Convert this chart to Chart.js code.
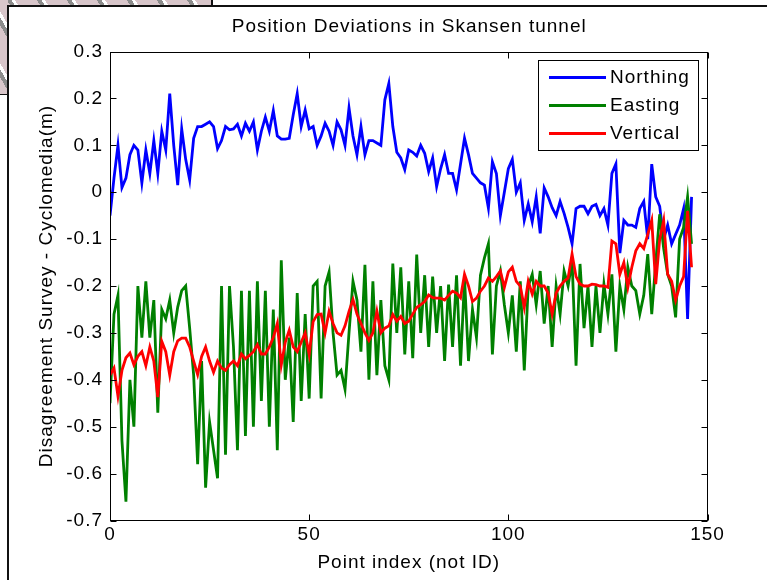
<!DOCTYPE html>
<html><head><meta charset="utf-8">
<script src="https://cdn.jsdelivr.net/npm/chart.js@4/dist/chart.umd.min.js"></script>
<style>
html,body{margin:0;padding:0;background:#fff;}
#wrap{position:relative;width:767px;height:580px;overflow:hidden;background:#fff;}
.bg{position:absolute;background:repeating-linear-gradient(60deg,#d8c6ca 0px,#d8c6ca 9px,#8c8c8c 9px,#8c8c8c 13px,#ffffff 13px,#ffffff 16px,#d8c6ca 16px,#d8c6ca 26px);}
.ln{position:absolute;background:#111;}
canvas{position:absolute;left:0;top:0;}
</style></head><body>
<div id="wrap">
<div class="bg" style="left:0;top:0;width:212px;height:6px"></div>
<div class="bg" style="left:0;top:0;width:8px;height:95px"></div>
<div class="ln" style="left:7px;top:5px;width:760px;height:2px"></div>
<div class="ln" style="left:7px;top:5px;width:2px;height:575px"></div>
<div class="ln" style="left:211px;top:0;width:2px;height:6px"></div>
<div class="ln" style="left:0;top:94px;width:8px;height:1px"></div>
<canvas id="c" width="767" height="580"></canvas>
</div>
<script>
const titleText = 'Position Deviations in Skansen tunnel';
const xTitle = 'Point index (not ID)';
const yTitle = 'Disagreement Survey - Cyclomedia(m)';
const seriesNames = ['Northing', 'Easting', 'Vertical'];
const seriesColors = ['#0000ff', '#008000', '#ff0000'];
const xTicks = [0, 50, 100, 150];
const yTicks = [-0.7, -0.6, -0.5, -0.4, -0.3, -0.2, -0.1, 0, 0.1, 0.2, 0.3];
const yTickLabels = ['-0.7', '-0.6', '-0.5', '-0.4', '-0.3', '-0.2', '-0.1', '0', '0.1', '0.2', '0.3'];

const northing = [
 -0.05, 0.03, 0.10, 0.01, 0.03, 0.08, 0.10, 0.09, 0.02, 0.09,
 0.04, 0.11, 0.04, 0.13, 0.09, 0.21, 0.10, 0.015, 0.135, 0.07,
 0.026, 0.115, 0.14, 0.14, 0.145, 0.15, 0.14, 0.093, 0.11, 0.14,
 0.133, 0.135, 0.145, 0.12, 0.147, 0.13, 0.15, 0.09, 0.13, 0.16,
 0.13, 0.174, 0.12, 0.113, 0.113, 0.115, 0.165, 0.21, 0.14, 0.175,
 0.135, 0.14, 0.10, 0.12, 0.147, 0.13, 0.10, 0.15, 0.133, 0.10,
 0.18, 0.12, 0.08, 0.14, 0.08, 0.11, 0.11, 0.105, 0.10, 0.197,
 0.232, 0.14, 0.085, 0.073, 0.048, 0.09, 0.085, 0.077, 0.10, 0.083,
 0.044, 0.073, 0.012, 0.05, 0.08, 0.04, 0.04, 0.005, 0.06, 0.115,
 0.08, 0.04, 0.03, 0.02, 0.015, -0.034, 0.065, 0.04, -0.05, 0.0,
 0.05, 0.07, 0.0, 0.02, -0.06, -0.025, -0.063, -0.01, -0.088, 0.009,
 -0.01, -0.033, -0.05, -0.02, -0.045, -0.075, -0.11, -0.035, -0.03, -0.03,
 -0.046, -0.03, -0.026, -0.05, -0.035, -0.07, 0.04, 0.06, -0.13, -0.06,
 -0.07, -0.07, -0.075, -0.035, -0.02, -0.1, 0.06, -0.01, -0.03, -0.1,
 -0.07, -0.11, -0.09, -0.07, -0.035, -0.27, -0.01
];
const easting = [
 -0.45, -0.26, -0.22, -0.53, -0.66, -0.40, -0.50, -0.20, -0.31, -0.19,
 -0.31, -0.23, -0.47, -0.25, -0.27, -0.23, -0.30, -0.245, -0.21, -0.20,
 -0.29, -0.39, -0.58, -0.36, -0.63, -0.49, -0.55, -0.61, -0.20, -0.56,
 -0.20, -0.33, -0.55, -0.21, -0.52, -0.21, -0.50, -0.19, -0.445, -0.21,
 -0.50, -0.25, -0.55, -0.145, -0.40, -0.31, -0.49, -0.215, -0.445, -0.26,
 -0.44, -0.20, -0.19, -0.44, -0.20, -0.17, -0.30, -0.39, -0.38, -0.42,
 -0.30, -0.19, -0.23, -0.34, -0.155, -0.40, -0.19, -0.39, -0.23, -0.37,
 -0.40, -0.152, -0.30, -0.16, -0.346, -0.19, -0.354, -0.133, -0.30, -0.177,
 -0.33, -0.18, -0.30, -0.20, -0.36, -0.197, -0.33, -0.177, -0.37, -0.183,
 -0.36, -0.25, -0.31, -0.177, -0.14, -0.11, -0.346, -0.20, -0.168, -0.24,
 -0.30, -0.22, -0.34, -0.19, -0.38, -0.20, -0.175, -0.24, -0.168, -0.28,
 -0.20, -0.33, -0.20, -0.26, -0.168, -0.20, -0.146, -0.37, -0.153, -0.29,
 -0.20, -0.33, -0.20, -0.30, -0.196, -0.26, -0.175, -0.34, -0.20, -0.25,
 -0.16, -0.20, -0.21, -0.26, -0.22, -0.132, -0.26, -0.15, -0.047, -0.12,
 -0.175, -0.20, -0.267, -0.10, -0.075, -0.01, -0.11
];
const vertical = [
 -0.39, -0.375, -0.435, -0.38, -0.353, -0.343, -0.368, -0.35, -0.34, -0.37,
 -0.33, -0.36, -0.437, -0.318, -0.34, -0.39, -0.34, -0.317, -0.311, -0.311,
 -0.33, -0.36, -0.389, -0.35, -0.33, -0.36, -0.384, -0.36, -0.375, -0.38,
 -0.368, -0.36, -0.37, -0.345, -0.355, -0.348, -0.34, -0.325, -0.345, -0.345,
 -0.33, -0.31, -0.28, -0.368, -0.32, -0.294, -0.33, -0.34, -0.32, -0.30,
 -0.346, -0.276, -0.261, -0.26, -0.30, -0.254, -0.28, -0.30, -0.305, -0.285,
 -0.254, -0.229, -0.26, -0.28, -0.30, -0.316, -0.30, -0.254, -0.30, -0.29,
 -0.285, -0.261, -0.275, -0.265, -0.28, -0.275, -0.26, -0.246, -0.24, -0.233,
 -0.219, -0.225, -0.226, -0.226, -0.23, -0.22, -0.211, -0.215, -0.225, -0.175,
 -0.20, -0.233, -0.226, -0.211, -0.20, -0.183, -0.19, -0.18, -0.168, -0.203,
 -0.17, -0.16, -0.19, -0.20, -0.246, -0.19, -0.217, -0.19, -0.20, -0.20,
 -0.215, -0.26, -0.215, -0.20, -0.19, -0.183, -0.132, -0.18, -0.196, -0.20,
 -0.20, -0.196, -0.197, -0.20, -0.20, -0.203, -0.104, -0.11, -0.175, -0.15,
 -0.203, -0.16, -0.125, -0.11, -0.12, -0.09, -0.06, -0.196, -0.10, -0.06,
 -0.175, -0.19, -0.23, -0.20, -0.18, -0.04, -0.16
];

const FONT_FAMILY = "'Liberation Sans', Arial, Helvetica, sans-serif";
const toPoints = arr => arr.map((v, i) => ({x: i, y: v}));
const seriesData = [northing, easting, vertical];

const spacingPlugin = {
  id: 'spacing',
  beforeLayout(c) { c.ctx.letterSpacing = '1px'; },
  beforeDraw(c) { c.ctx.letterSpacing = '1px'; }
};

const framePlugin = {
  id: 'frame',
  afterDatasetsDraw(c) {
    const ctx = c.ctx, a = c.chartArea, xs = c.scales.x, ys = c.scales.y;
    ctx.save();
    ctx.strokeStyle = '#000';
    ctx.lineWidth = 1;
    const L = Math.round(a.left) + 0.5, R = Math.round(a.right) - 0.5;
    const T = Math.round(a.top) + 0.5, B = Math.round(a.bottom) - 0.5;
    ctx.strokeRect(L, T, R - L, B - T);
    const tl = 6;
    ctx.beginPath();
    yTicks.forEach(v => {
      const py = Math.round(ys.getPixelForValue(v)) + 0.5;
      ctx.moveTo(L, py); ctx.lineTo(L + tl, py);
      ctx.moveTo(R, py); ctx.lineTo(R - tl, py);
    });
    xTicks.forEach(v => {
      const px = Math.round(xs.getPixelForValue(v)) + 0.5;
      ctx.moveTo(px, B); ctx.lineTo(px, B - tl);
      ctx.moveTo(px, T); ctx.lineTo(px, T + tl);
    });
    ctx.stroke();
    ctx.restore();
  },
  afterDraw(c) {
    const ctx = c.ctx, a = c.chartArea;
    ctx.save();
    ctx.letterSpacing = '1px';
    ctx.font = '19px ' + FONT_FAMILY;
    ctx.textBaseline = 'middle';
    ctx.textAlign = 'center';
    ctx.fillStyle = '#000';
    ctx.fillText(titleText, (a.left + a.right) / 2 + 0.5, 27);

    ctx.fillStyle = '#fff';
    ctx.fillRect(538.5, 60.5, 160, 90);
    ctx.strokeStyle = '#000';
    ctx.lineWidth = 1;
    ctx.strokeRect(538.5, 60.5, 160, 90);
    const rows = [77.5, 105.5, 133.5];
    ctx.textAlign = 'left';
    seriesNames.forEach((n, i) => {
      ctx.strokeStyle = seriesColors[i];
      ctx.lineWidth = 2.8;
      ctx.beginPath();
      ctx.moveTo(549, rows[i]); ctx.lineTo(606, rows[i]);
      ctx.stroke();
      ctx.fillStyle = '#000';
      ctx.fillText(n, 610, rows[i] + 0.5);
    });
    ctx.restore();
  }
};

new Chart(document.getElementById('c'), {
  type: 'line',
  data: {
    datasets: seriesNames.map((n, i) => ({
      label: n,
      data: toPoints(seriesData[i]),
      borderColor: seriesColors[i],
      backgroundColor: seriesColors[i],
      borderWidth: 2.8,
      pointRadius: 0,
      tension: 0,
      fill: false,
      order: 3 - i
    }))
  },
  options: {
    responsive: false,
    devicePixelRatio: 1,
    animation: false,
    layout: {padding: {left: 0, right: 59.5, top: 51.5, bottom: 0}},
    plugins: {
      legend: {display: false},
      tooltip: {enabled: false},
      title: {display: false}
    },
    scales: {
      x: {
        type: 'linear',
        min: 0, max: 150,
        grid: {display: false, drawTicks: false},
        border: {display: false},
        afterBuildTicks: s => { s.ticks = xTicks.map(v => ({value: v})); },
        afterFit: s => { s.height = 59.5; },
        ticks: {
          color: '#000',
          padding: 3,
          maxRotation: 0,
          font: {family: FONT_FAMILY, size: 19},
          callback: v => String(v)
        },
        title: {
          display: true,
          text: xTitle,
          color: '#000',
          font: {family: FONT_FAMILY, size: 19},
          padding: {top: 0, bottom: 5.6}
        }
      },
      y: {
        type: 'linear',
        min: -0.7, max: 0.3,
        grid: {display: false, drawTicks: false},
        border: {display: false},
        afterBuildTicks: s => { s.ticks = yTicks.map(v => ({value: v})); },
        afterFit: s => { s.width = 110; },
        ticks: {
          color: '#000',
          padding: 7,
          font: {family: FONT_FAMILY, size: 19},
          callback: (v, i) => yTickLabels[i]
        },
        title: {
          display: true,
          text: yTitle,
          color: '#000',
          font: {family: FONT_FAMILY, size: 19},
          padding: {top: 35.6, bottom: 0}
        }
      }
    }
  },
  plugins: [spacingPlugin, framePlugin]
});
</script>
</body></html>
